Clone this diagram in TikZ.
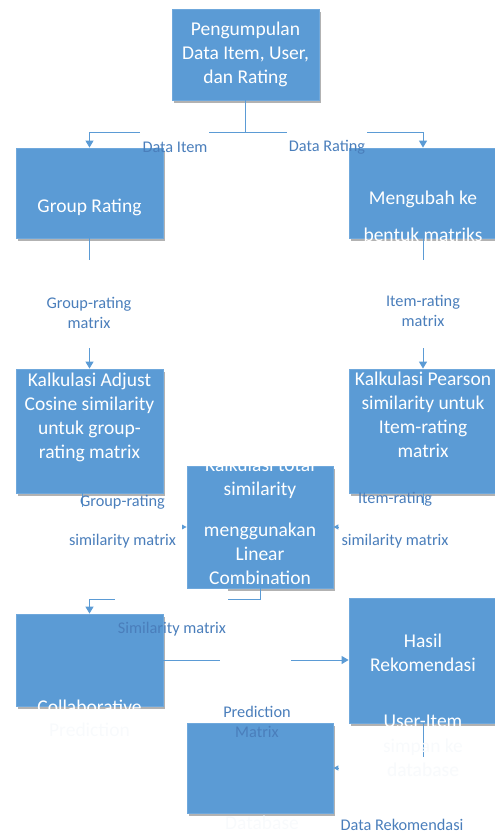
\documentclass[tikz,border=0pt]{standalone}
\usepackage{fontspec}
\setmainfont{Carlito}
\usetikzlibrary{arrows.meta,shadows}
\definecolor{boxblue}{HTML}{5B9BD5}
\definecolor{boxedge}{HTML}{6FA8DC}
\definecolor{labblue}{HTML}{4A7EBB}
\definecolor{faint}{HTML}{F8FAFC}
\begin{document}
\begin{tikzpicture}[x=1pt,y=-1pt,
  box/.style={rectangle, fill=boxblue, draw=boxedge, line width=0.8pt, inner sep=0pt,
    drop shadow={shadow xshift=1.5pt, shadow yshift=-2.5pt, opacity=0.3, fill=black}},
  boxtext/.style={text=white, align=center, font=\fontsize{19.5}{24}\selectfont, inner sep=0pt},
  fainttext/.style={text=faint, align=center, font=\fontsize{19.5}{24}\selectfont, inner sep=0pt},
  labtext/.style={text=labblue, align=center, font=\fontsize{16.3}{20}\selectfont, inner sep=0pt},
  conn/.style={draw=boxblue, line width=1pt},
  bigtip/.style={-{Triangle[width=8pt,length=7pt]}},
  smalltip/.style={-{Triangle[width=5pt,length=5pt]}}
]
\useasboundingbox (0,0) rectangle (495,835);
\clip (0,0) rectangle (495,835);

% boxes
\node[box, minimum width=147pt, minimum height=91pt] (top) at (245.5,54.5) {};
\node[box, minimum width=147pt, minimum height=90pt] (grp) at (89.5,193) {};
\node[box, minimum width=148pt, minimum height=90pt] (mat) at (423,193) {};
\node[box, minimum width=147pt, minimum height=124pt] (adj) at (89.5,431) {};
\node[box, minimum width=148pt, minimum height=124pt] (prs) at (423,431) {};
\node[box, minimum width=146pt, minimum height=122pt] (tot) at (260,527) {};
\node[box, minimum width=147pt, minimum height=92pt] (col) at (89.5,660) {};
\node[box, minimum width=148pt, minimum height=125pt] (has) at (423,660.5) {};
\node[box, minimum width=146pt, minimum height=90pt] (db) at (260,768) {};

% connectors
\draw[conn,bigtip] (top.south) -- ++(0,32) -| (grp.north);
\draw[conn,bigtip] (top.south) -- ++(0,32) -| (mat.north);
\draw[conn,bigtip] (grp.south) -- (adj.north);
\draw[conn,bigtip] (mat.south) -- (prs.north);
\draw[conn,smalltip] ([xshift=-7pt]adj.south) |- (tot.west);
\draw[conn,smalltip] (prs.south) |- (tot.east);
\draw[conn,bigtip] (tot.south) -- ++(0,11) -| (col.north);
\draw[conn,bigtip] (col.east) -- (col.east -| has.west);
\draw[conn,smalltip] (has.south) |- (db.east);

% white label backgrounds that cut the connectors
\fill[white] (140,125) rectangle (209,140);
\fill[white] (287,125) rectangle (367,140);
\fill[white] (78,260) rectangle (100,348);
\fill[white] (412,260) rectangle (434,348);
\fill[white] (60,507) rectangle (182,556);
\fill[white] (339,505) rectangle (462,556);
\fill[white] (115,589) rectangle (228,608);
\fill[white] (220,648) rectangle (291,674);
\fill[white] (339,757) rectangle (470,790);

% box texts
\node[boxtext] (ttop) at (245.5,54) {Pengumpulan\\Data Item, User,\\dan Rating};
\node[boxtext] (tgrp) at (89.5,207) {Group Rating};
\node[boxtext] (tmat) at (423,216.5) {Mengubah ke\\[13pt]bentuk matriks};
\node[boxtext] (tadj) at (89.5,417.5) {Kalkulasi Adjust\\Cosine similarity\\untuk group-\\rating matrix};
\node[boxtext] (tprs) at (423,415) {Kalkulasi Pearson\\similarity untuk\\Item-rating\\matrix};
\begin{scope}
  \clip (tot.north west) rectangle (tot.south east);
  \node[boxtext] (ttot) at (260,521.5) {Kalkulasi total\\similarity\\[17pt]menggunakan\\Linear\\Combination};
\end{scope}
\node[boxtext] (tcol) at (89.5,707) {Collaborative};
\node[fainttext] (tcol2) at (89.5,730) {Prediction};
\node[boxtext] (thas) at (423,652.5) {Hasil\\Rekomendasi};
\node[boxtext] (thas2) at (423,721) {User-Item};
\node[fainttext] (thas3) at (423,757.5) {simpan ke\\database};
\node[fainttext] (tdb) at (262,823) {Database};

% connector labels
\node[labtext] (l1) at (175,147) {Data Item};
\node[labtext] (l2) at (327,147) {Data Rating};
\node[labtext] (l3) at (89,313) {Group-rating\\matrix};
\node[labtext] (l4) at (423,310.5) {Item-rating\\matrix};
\node[labtext] (l5) at (122.5,521.5) {Group-rating\\[19pt]similarity matrix};
\node[labtext] (l6) at (395,520) {Item-rating\\[22pt]similarity matrix};
\node[labtext] (l7) at (172,629) {Similarity matrix};
\node[labtext] (l8) at (257,721.5) {Prediction\\Matrix};
\node[labtext] (l9) at (402,825) {Data Rekomendasi};
\end{tikzpicture}
\end{document}
